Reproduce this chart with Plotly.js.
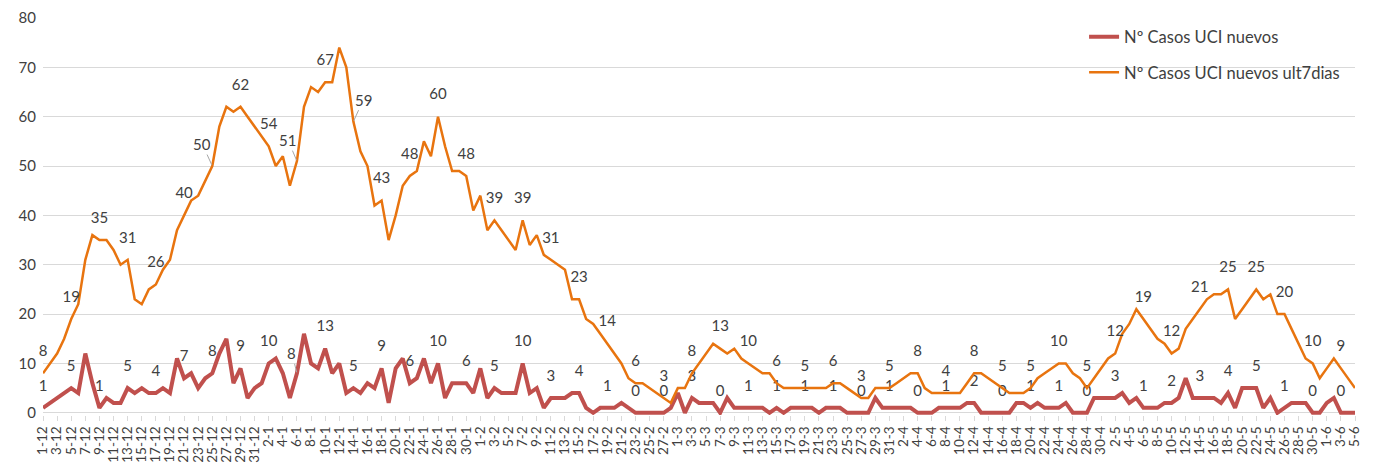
<!DOCTYPE html>
<html>
<head>
<meta charset="utf-8">
<script src="https://cdn.plot.ly/plotly-3.0.1.min.js"></script>
<style>html,body{margin:0;padding:0;background:#fff;}#chart{width:1378px;height:465px;}</style>
</head>
<body>
<div id="chart"></div>
<script>
const categories = [
"1-12","2-12","3-12","4-12","5-12","6-12","7-12","8-12","9-12","10-12","11-12","12-12","13-12","14-12","15-12","16-12","17-12","18-12","19-12","20-12","21-12","22-12","23-12","24-12","25-12","26-12","27-12","28-12","29-12","30-12","31-12",
"1-1","2-1","3-1","4-1","5-1","6-1","7-1","8-1","9-1","10-1","11-1","12-1","13-1","14-1","15-1","16-1","17-1","18-1","19-1","20-1","21-1","22-1","23-1","24-1","25-1","26-1","27-1","28-1","29-1","30-1","31-1",
"1-2","2-2","3-2","4-2","5-2","6-2","7-2","8-2","9-2","10-2","11-2","12-2","13-2","14-2","15-2","16-2","17-2","18-2","19-2","20-2","21-2","22-2","23-2","24-2","25-2","26-2","27-2","28-2",
"1-3","2-3","3-3","4-3","5-3","6-3","7-3","8-3","9-3","10-3","11-3","12-3","13-3","14-3","15-3","16-3","17-3","18-3","19-3","20-3","21-3","22-3","23-3","24-3","25-3","26-3","27-3","28-3","29-3","30-3","31-3",
"1-4","2-4","3-4","4-4","5-4","6-4","7-4","8-4","9-4","10-4","11-4","12-4","13-4","14-4","15-4","16-4","17-4","18-4","19-4","20-4","21-4","22-4","23-4","24-4","25-4","26-4","27-4","28-4","29-4","30-4",
"1-5","2-5","3-5","4-5","5-5","6-5","7-5","8-5","9-5","10-5","11-5","12-5","13-5","14-5","15-5","16-5","17-5","18-5","19-5","20-5","21-5","22-5","23-5","24-5","25-5","26-5","27-5","28-5","29-5","30-5","31-5",
"1-6","2-6","3-6","4-6","5-6"
];

const casosUCI = [
1,2,3,4,5,4,12,6,1,3,2,2,5,4,5,4,4,5,4,11,7,8,5,7,8,12,15,6,9,3,5,
6,10,11,8,3,8,16,10,9,13,8,10,4,5,4,6,5,9,2,9,11,6,7,11,6,10,3,6,6,6,4,
9,3,5,4,4,4,10,4,5,1,3,3,3,4,4,1,0,1,1,1,2,1,0,0,0,0,0,1,
4,0,3,2,2,2,0,3,1,1,1,1,1,0,1,0,1,1,1,1,0,1,1,1,0,0,0,0,3,1,1,
1,1,1,0,0,0,1,1,1,1,2,2,0,0,0,0,0,2,2,1,2,1,1,1,2,0,0,0,3,3,
3,3,4,2,3,1,1,1,2,2,3,7,3,3,3,3,2,4,1,5,5,5,1,3,0,1,2,2,2,0,0,
2,3,0,0,0
];

const casosUCI7d = [
8,10,12,15,19,22,31,36,35,35,33,30,31,23,22,25,26,29,31,37,40,43,44,47,50,58,62,61,62,60,58,
56,54,50,52,46,51,62,66,65,67,67,74,70,59,53,50,42,43,35,40,46,48,49,55,52,60,54,49,49,48,41,
44,37,39,37,35,33,39,34,36,32,31,30,29,23,23,19,18,16,14,12,10,7,6,6,5,4,3,2,
5,5,8,10,12,14,13,12,13,11,10,9,8,8,6,5,5,5,5,5,5,5,6,6,5,4,3,3,5,5,5,
6,7,8,8,5,4,4,4,4,4,6,8,8,7,6,5,4,4,4,5,7,8,9,10,10,8,7,5,7,9,
11,12,16,18,21,19,17,15,14,12,13,17,19,21,23,24,24,25,19,21,23,25,23,24,20,20,17,14,11,10,7,
9,11,9,7,5
];

const seriesNames = ["Nº Casos UCI nuevos", "Nº Casos UCI nuevos ult7dias"];
const yTicks = [0,10,20,30,40,50,60,70,80];

// labels every 4th day; some labels are moved with a leader line
const LABEL_STEP = 4;
const movedOrange = {24: [-10, -22], 36: [-9, -21], 44: [10, -22]};
const movedRed = {36: [-5, -20]};

const RED = "#C0504D", ORANGE = "#E8740F";
const FONT = "Lato, 'Open Sans', sans-serif";
const TXT = "#404040";

function labelText(vals, moved) {
  return vals.map((v, i) => (i % LABEL_STEP === 0 && !(i in moved)) ? String(v) : "");
}

const tickvals = categories.filter((c, i) => i % 2 === 0);

const traceRed = {
  x: categories, y: casosUCI, name: seriesNames[0], type: "scatter",
  mode: "lines+markers+text",
  line: {color: RED, width: 4, shape: "linear"},
  marker: {size: 20, color: "rgba(0,0,0,0)"},
  text: labelText(casosUCI, movedRed),
  textposition: "top center",
  textfont: {family: FONT, size: 15, color: TXT},
  cliponaxis: false, hoverinfo: "x+y", legendgroup: "a"
};
const traceOrange = {
  x: categories, y: casosUCI7d, name: seriesNames[1], type: "scatter",
  mode: "lines+markers+text",
  line: {color: ORANGE, width: 2.5, shape: "linear"},
  marker: {size: 20, color: "rgba(0,0,0,0)"},
  text: labelText(casosUCI7d, movedOrange),
  textposition: "top center",
  textfont: {family: FONT, size: 15, color: TXT},
  cliponaxis: false, hoverinfo: "x+y", legendgroup: "b"
};

const annotations = [];
function addMoved(moved, vals) {
  Object.keys(moved).forEach(k => {
    const i = +k;
    annotations.push({
      x: categories[i], y: vals[i], xref: "x", yref: "y",
      text: String(vals[i]), showarrow: true, arrowhead: 0, arrowwidth: 1,
      arrowcolor: "#a6a6a6", ax: moved[k][0], ay: moved[k][1], standoff: 1,
      font: {family: FONT, size: 15, color: TXT}
    });
  });
}
addMoved(movedOrange, casosUCI7d);
addMoved(movedRed, casosUCI);

const layout = {
  width: 1378, height: 465,
  margin: {l: 43, r: 23, t: 18, b: 50, pad: 0},
  paper_bgcolor: "#fff", plot_bgcolor: "#fff",
  font: {family: FONT, size: 15, color: TXT},
  showlegend: true,
  legend: {
    x: 0.7935, y: 0.996, xanchor: "left", yanchor: "top",
    bgcolor: "rgba(0,0,0,0)", font: {family: FONT, size: 16.5, color: TXT},
    traceorder: "grouped", tracegroupgap: 11, itemwidth: 30
  },
  xaxis: {
    type: "category", range: [0, categories.length - 1],
    tickmode: "array", tickvals: tickvals, ticktext: tickvals,
    tickangle: -90, tickfont: {family: FONT, size: 13.5, color: TXT},
    ticks: "outside", ticklen: 5, tickcolor: "#d9d9d9", tickwidth: 1,
    showgrid: false, showline: false, zeroline: false, automargin: false
  },
  yaxis: {
    range: [-0.45, 80], tickmode: "array", tickvals: yTicks,
    tickfont: {family: FONT, size: 15, color: TXT},
    showgrid: true, gridcolor: "#d9d9d9", gridwidth: 1,
    zeroline: true, zerolinecolor: "#d9d9d9", zerolinewidth: 1,
    showline: false, ticks: "", automargin: false, ticklabelstandoff: 6
  },
  annotations: annotations
};

Plotly.newPlot("chart", [traceRed, traceOrange], layout, {displayModeBar: false, staticPlot: true});
</script>
</body>
</html>
